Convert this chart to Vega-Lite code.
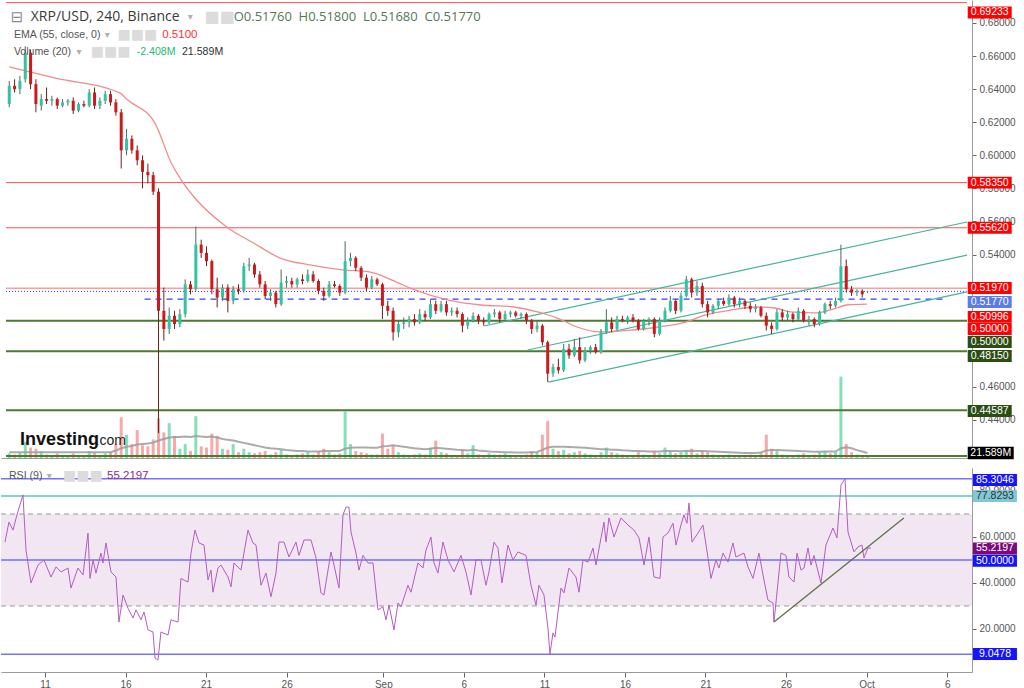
{
"$schema":"https://vega.github.io/schema/vega-lite/v6.json",
"padding":0,
"background":"#ffffff",
"spacing":10,
"bounds":"flush",
"config":{"view":{"stroke":null},"axis":{"grid":false,"labelFont":"Liberation Sans","labelColor":"#555555","labelFontSize":10,"tickColor":"#666666","domainColor":"#9a9a9a"},"text":{"font":"Liberation Sans"}},
"resolve":{"scale":{"x":"independent","y":"independent","fill":"independent","stroke":"independent","strokeWidth":"independent","color":"independent"}},
"datasets":{
"k":[
{"i":0,"o":0.631,"h":0.645,"l":0.629,"c":0.642,"v":20,"m":25},
{"i":1,"o":0.642,"h":0.646,"l":0.638,"c":0.640,"v":15,"m":25},
{"i":2,"o":0.640,"h":0.648,"l":0.637,"c":0.645,"v":25,"m":25},
{"i":3,"o":0.646,"h":0.666,"l":0.644,"c":0.662,"v":70,"m":25},
{"i":4,"o":0.662,"h":0.664,"l":0.640,"c":0.643,"v":45,"m":25},
{"i":5,"o":0.643,"h":0.646,"l":0.626,"c":0.631,"v":40,"m":25},
{"i":6,"o":0.630,"h":0.637,"l":0.627,"c":0.634,"v":30,"m":25},
{"i":7,"o":0.634,"h":0.641,"l":0.631,"c":0.633,"v":15,"m":25},
{"i":8,"o":0.633,"h":0.636,"l":0.630,"c":0.634,"v":12,"m":25},
{"i":9,"o":0.634,"h":0.635,"l":0.628,"c":0.630,"v":20,"m":25},
{"i":10,"o":0.630,"h":0.634,"l":0.629,"c":0.632,"v":10,"m":25},
{"i":11,"o":0.632,"h":0.634,"l":0.630,"c":0.633,"v":12,"m":25},
{"i":12,"o":0.633,"h":0.635,"l":0.625,"c":0.627,"v":20,"m":25},
{"i":13,"o":0.627,"h":0.632,"l":0.626,"c":0.631,"v":10,"m":25},
{"i":14,"o":0.631,"h":0.633,"l":0.629,"c":0.630,"v":12,"m":25},
{"i":15,"o":0.630,"h":0.640,"l":0.629,"c":0.638,"v":30,"m":25},
{"i":16,"o":0.638,"h":0.641,"l":0.628,"c":0.630,"v":25,"m":25},
{"i":17,"o":0.630,"h":0.635,"l":0.628,"c":0.633,"v":12,"m":25},
{"i":18,"o":0.633,"h":0.639,"l":0.631,"c":0.637,"v":20,"m":25},
{"i":19,"o":0.637,"h":0.639,"l":0.630,"c":0.632,"v":25,"m":25},
{"i":20,"o":0.632,"h":0.634,"l":0.624,"c":0.626,"v":60,"m":32},
{"i":21,"o":0.626,"h":0.628,"l":0.592,"c":0.603,"v":175,"m":42},
{"i":22,"o":0.603,"h":0.616,"l":0.600,"c":0.610,"v":100,"m":48},
{"i":23,"o":0.610,"h":0.612,"l":0.601,"c":0.603,"v":60,"m":52},
{"i":24,"o":0.603,"h":0.606,"l":0.594,"c":0.597,"v":120,"m":58},
{"i":25,"o":0.597,"h":0.600,"l":0.580,"c":0.590,"v":55,"m":60},
{"i":26,"o":0.590,"h":0.595,"l":0.583,"c":0.588,"v":50,"m":62},
{"i":27,"o":0.588,"h":0.590,"l":0.576,"c":0.578,"v":80,"m":66},
{"i":28,"o":0.578,"h":0.580,"l":0.432,"c":0.506,"v":170,"m":75},
{"i":29,"o":0.506,"h":0.520,"l":0.488,"c":0.495,"v":110,"m":82},
{"i":30,"o":0.495,"h":0.508,"l":0.492,"c":0.503,"v":150,"m":88},
{"i":31,"o":0.503,"h":0.506,"l":0.495,"c":0.498,"v":95,"m":90},
{"i":32,"o":0.498,"h":0.507,"l":0.496,"c":0.504,"v":40,"m":90},
{"i":33,"o":0.504,"h":0.525,"l":0.502,"c":0.522,"v":60,"m":92},
{"i":34,"o":0.522,"h":0.524,"l":0.516,"c":0.519,"v":30,"m":90},
{"i":35,"o":0.519,"h":0.557,"l":0.518,"c":0.546,"v":180,"m":95},
{"i":36,"o":0.546,"h":0.549,"l":0.538,"c":0.541,"v":50,"m":92},
{"i":37,"o":0.541,"h":0.545,"l":0.533,"c":0.536,"v":45,"m":90},
{"i":38,"o":0.536,"h":0.537,"l":0.516,"c":0.519,"v":105,"m":92},
{"i":39,"o":0.519,"h":0.526,"l":0.508,"c":0.514,"v":95,"m":88},
{"i":40,"o":0.514,"h":0.522,"l":0.512,"c":0.520,"v":40,"m":82},
{"i":41,"o":0.520,"h":0.522,"l":0.505,"c":0.512,"v":35,"m":78},
{"i":42,"o":0.512,"h":0.521,"l":0.510,"c":0.519,"v":60,"m":75},
{"i":43,"o":0.519,"h":0.522,"l":0.516,"c":0.518,"v":25,"m":70},
{"i":44,"o":0.518,"h":0.535,"l":0.517,"c":0.533,"v":40,"m":65},
{"i":45,"o":0.533,"h":0.538,"l":0.530,"c":0.534,"v":25,"m":60},
{"i":46,"o":0.534,"h":0.535,"l":0.526,"c":0.528,"v":20,"m":55},
{"i":47,"o":0.528,"h":0.530,"l":0.520,"c":0.522,"v":25,"m":50},
{"i":48,"o":0.522,"h":0.524,"l":0.513,"c":0.515,"v":30,"m":45},
{"i":49,"o":0.515,"h":0.519,"l":0.512,"c":0.517,"v":15,"m":42},
{"i":50,"o":0.517,"h":0.518,"l":0.508,"c":0.510,"v":25,"m":40},
{"i":51,"o":0.510,"h":0.531,"l":0.509,"c":0.523,"v":35,"m":38},
{"i":52,"o":0.523,"h":0.527,"l":0.520,"c":0.524,"v":15,"m":34},
{"i":53,"o":0.524,"h":0.526,"l":0.520,"c":0.522,"v":12,"m":32},
{"i":54,"o":0.522,"h":0.526,"l":0.520,"c":0.525,"v":15,"m":30},
{"i":55,"o":0.525,"h":0.528,"l":0.522,"c":0.524,"v":20,"m":30},
{"i":56,"o":0.524,"h":0.531,"l":0.523,"c":0.528,"v":25,"m":28},
{"i":57,"o":0.528,"h":0.530,"l":0.523,"c":0.524,"v":15,"m":28},
{"i":58,"o":0.524,"h":0.525,"l":0.516,"c":0.518,"v":30,"m":28},
{"i":59,"o":0.518,"h":0.520,"l":0.512,"c":0.515,"v":40,"m":30},
{"i":60,"o":0.515,"h":0.524,"l":0.514,"c":0.522,"v":25,"m":30},
{"i":61,"o":0.522,"h":0.524,"l":0.520,"c":0.521,"v":15,"m":30},
{"i":62,"o":0.521,"h":0.522,"l":0.515,"c":0.517,"v":20,"m":30},
{"i":63,"o":0.517,"h":0.548,"l":0.516,"c":0.536,"v":200,"m":40},
{"i":64,"o":0.536,"h":0.541,"l":0.533,"c":0.538,"v":60,"m":44},
{"i":65,"o":0.538,"h":0.539,"l":0.530,"c":0.532,"v":30,"m":45},
{"i":66,"o":0.532,"h":0.533,"l":0.524,"c":0.526,"v":25,"m":45},
{"i":67,"o":0.526,"h":0.528,"l":0.518,"c":0.520,"v":20,"m":45},
{"i":68,"o":0.520,"h":0.527,"l":0.519,"c":0.525,"v":15,"m":44},
{"i":69,"o":0.525,"h":0.526,"l":0.521,"c":0.522,"v":15,"m":44},
{"i":70,"o":0.522,"h":0.523,"l":0.501,"c":0.509,"v":105,"m":50},
{"i":71,"o":0.509,"h":0.512,"l":0.503,"c":0.506,"v":40,"m":52},
{"i":72,"o":0.506,"h":0.508,"l":0.488,"c":0.493,"v":55,"m":55},
{"i":73,"o":0.493,"h":0.500,"l":0.490,"c":0.498,"v":25,"m":52},
{"i":74,"o":0.498,"h":0.502,"l":0.495,"c":0.499,"v":15,"m":48},
{"i":75,"o":0.499,"h":0.503,"l":0.496,"c":0.501,"v":12,"m":45},
{"i":76,"o":0.501,"h":0.504,"l":0.497,"c":0.499,"v":15,"m":42},
{"i":77,"o":0.499,"h":0.507,"l":0.498,"c":0.504,"v":20,"m":40},
{"i":78,"o":0.504,"h":0.506,"l":0.500,"c":0.502,"v":15,"m":38},
{"i":79,"o":0.502,"h":0.513,"l":0.501,"c":0.510,"v":45,"m":40},
{"i":80,"o":0.510,"h":0.512,"l":0.504,"c":0.506,"v":75,"m":44},
{"i":81,"o":0.506,"h":0.512,"l":0.505,"c":0.510,"v":25,"m":42},
{"i":82,"o":0.510,"h":0.512,"l":0.503,"c":0.505,"v":20,"m":40},
{"i":83,"o":0.505,"h":0.508,"l":0.503,"c":0.506,"v":12,"m":38},
{"i":84,"o":0.506,"h":0.508,"l":0.502,"c":0.504,"v":10,"m":35},
{"i":85,"o":0.504,"h":0.505,"l":0.493,"c":0.497,"v":35,"m":34},
{"i":86,"o":0.497,"h":0.502,"l":0.495,"c":0.500,"v":20,"m":32},
{"i":87,"o":0.500,"h":0.505,"l":0.499,"c":0.503,"v":55,"m":35},
{"i":88,"o":0.503,"h":0.504,"l":0.498,"c":0.500,"v":15,"m":32},
{"i":89,"o":0.500,"h":0.502,"l":0.497,"c":0.499,"v":12,"m":30},
{"i":90,"o":0.499,"h":0.505,"l":0.498,"c":0.504,"v":20,"m":28},
{"i":91,"o":0.504,"h":0.507,"l":0.502,"c":0.505,"v":15,"m":27},
{"i":92,"o":0.505,"h":0.506,"l":0.499,"c":0.501,"v":15,"m":26},
{"i":93,"o":0.501,"h":0.506,"l":0.500,"c":0.504,"v":20,"m":25},
{"i":94,"o":0.504,"h":0.506,"l":0.502,"c":0.505,"v":10,"m":25},
{"i":95,"o":0.505,"h":0.506,"l":0.502,"c":0.503,"v":12,"m":24},
{"i":96,"o":0.503,"h":0.505,"l":0.501,"c":0.504,"v":10,"m":24},
{"i":97,"o":0.504,"h":0.505,"l":0.498,"c":0.500,"v":15,"m":24},
{"i":98,"o":0.500,"h":0.501,"l":0.492,"c":0.495,"v":30,"m":25},
{"i":99,"o":0.495,"h":0.500,"l":0.493,"c":0.497,"v":25,"m":26},
{"i":100,"o":0.497,"h":0.498,"l":0.485,"c":0.487,"v":100,"m":35},
{"i":101,"o":0.487,"h":0.488,"l":0.463,"c":0.468,"v":160,"m":45},
{"i":102,"o":0.468,"h":0.474,"l":0.466,"c":0.472,"v":40,"m":48},
{"i":103,"o":0.472,"h":0.477,"l":0.468,"c":0.470,"v":30,"m":48},
{"i":104,"o":0.470,"h":0.486,"l":0.469,"c":0.483,"v":35,"m":48},
{"i":105,"o":0.483,"h":0.486,"l":0.477,"c":0.479,"v":20,"m":47},
{"i":106,"o":0.479,"h":0.489,"l":0.478,"c":0.484,"v":25,"m":46},
{"i":107,"o":0.484,"h":0.490,"l":0.474,"c":0.476,"v":30,"m":45},
{"i":108,"o":0.476,"h":0.484,"l":0.475,"c":0.482,"v":20,"m":44},
{"i":109,"o":0.482,"h":0.485,"l":0.480,"c":0.484,"v":15,"m":42},
{"i":110,"o":0.484,"h":0.486,"l":0.480,"c":0.481,"v":12,"m":40},
{"i":111,"o":0.481,"h":0.495,"l":0.480,"c":0.493,"v":25,"m":38},
{"i":112,"o":0.493,"h":0.507,"l":0.492,"c":0.499,"v":45,"m":38},
{"i":113,"o":0.499,"h":0.502,"l":0.493,"c":0.495,"v":25,"m":36},
{"i":114,"o":0.495,"h":0.503,"l":0.494,"c":0.501,"v":20,"m":35},
{"i":115,"o":0.501,"h":0.503,"l":0.499,"c":0.500,"v":15,"m":33},
{"i":116,"o":0.500,"h":0.503,"l":0.498,"c":0.502,"v":12,"m":32},
{"i":117,"o":0.502,"h":0.504,"l":0.499,"c":0.500,"v":12,"m":30},
{"i":118,"o":0.500,"h":0.501,"l":0.494,"c":0.495,"v":25,"m":30},
{"i":119,"o":0.495,"h":0.501,"l":0.494,"c":0.500,"v":15,"m":29},
{"i":120,"o":0.500,"h":0.502,"l":0.497,"c":0.501,"v":12,"m":28},
{"i":121,"o":0.501,"h":0.502,"l":0.490,"c":0.492,"v":30,"m":28},
{"i":122,"o":0.492,"h":0.502,"l":0.491,"c":0.500,"v":20,"m":28},
{"i":123,"o":0.500,"h":0.508,"l":0.499,"c":0.506,"v":45,"m":30},
{"i":124,"o":0.506,"h":0.515,"l":0.505,"c":0.512,"v":30,"m":30},
{"i":125,"o":0.512,"h":0.513,"l":0.504,"c":0.506,"v":20,"m":30},
{"i":126,"o":0.506,"h":0.517,"l":0.505,"c":0.515,"v":25,"m":29},
{"i":127,"o":0.515,"h":0.527,"l":0.514,"c":0.525,"v":35,"m":30},
{"i":128,"o":0.525,"h":0.526,"l":0.514,"c":0.517,"v":40,"m":31},
{"i":129,"o":0.517,"h":0.524,"l":0.515,"c":0.521,"v":20,"m":30},
{"i":130,"o":0.521,"h":0.523,"l":0.508,"c":0.510,"v":30,"m":30},
{"i":131,"o":0.510,"h":0.512,"l":0.502,"c":0.505,"v":25,"m":29},
{"i":132,"o":0.505,"h":0.510,"l":0.504,"c":0.509,"v":15,"m":28},
{"i":133,"o":0.509,"h":0.513,"l":0.507,"c":0.512,"v":12,"m":27},
{"i":134,"o":0.512,"h":0.514,"l":0.509,"c":0.510,"v":10,"m":26},
{"i":135,"o":0.510,"h":0.516,"l":0.509,"c":0.514,"v":15,"m":25},
{"i":136,"o":0.514,"h":0.515,"l":0.508,"c":0.510,"v":12,"m":24},
{"i":137,"o":0.510,"h":0.514,"l":0.508,"c":0.512,"v":10,"m":23},
{"i":138,"o":0.512,"h":0.513,"l":0.507,"c":0.509,"v":10,"m":22},
{"i":139,"o":0.509,"h":0.511,"l":0.505,"c":0.507,"v":15,"m":22},
{"i":140,"o":0.507,"h":0.510,"l":0.505,"c":0.508,"v":10,"m":22},
{"i":141,"o":0.508,"h":0.509,"l":0.502,"c":0.503,"v":25,"m":24},
{"i":142,"o":0.503,"h":0.505,"l":0.494,"c":0.497,"v":100,"m":32},
{"i":143,"o":0.497,"h":0.499,"l":0.492,"c":0.495,"v":40,"m":34},
{"i":144,"o":0.495,"h":0.507,"l":0.494,"c":0.505,"v":30,"m":34},
{"i":145,"o":0.505,"h":0.507,"l":0.500,"c":0.502,"v":15,"m":33},
{"i":146,"o":0.502,"h":0.506,"l":0.500,"c":0.504,"v":12,"m":32},
{"i":147,"o":0.504,"h":0.505,"l":0.499,"c":0.501,"v":10,"m":31},
{"i":148,"o":0.501,"h":0.508,"l":0.500,"c":0.506,"v":15,"m":30},
{"i":149,"o":0.506,"h":0.507,"l":0.499,"c":0.500,"v":20,"m":29},
{"i":150,"o":0.500,"h":0.503,"l":0.497,"c":0.501,"v":12,"m":28},
{"i":151,"o":0.501,"h":0.502,"l":0.496,"c":0.498,"v":15,"m":27},
{"i":152,"o":0.498,"h":0.506,"l":0.497,"c":0.505,"v":25,"m":27},
{"i":153,"o":0.505,"h":0.511,"l":0.504,"c":0.510,"v":30,"m":28},
{"i":154,"o":0.510,"h":0.512,"l":0.507,"c":0.509,"v":20,"m":28},
{"i":155,"o":0.509,"h":0.514,"l":0.508,"c":0.512,"v":25,"m":28},
{"i":156,"o":0.512,"h":0.546,"l":0.511,"c":0.533,"v":350,"m":42},
{"i":157,"o":0.533,"h":0.537,"l":0.517,"c":0.519,"v":60,"m":46},
{"i":158,"o":0.519,"h":0.521,"l":0.515,"c":0.517,"v":25,"m":42},
{"i":159,"o":0.517,"h":0.519,"l":0.515,"c":0.518,"v":15,"m":34},
{"i":160,"o":0.518,"h":0.519,"l":0.514,"c":0.516,"v":12,"m":28},
{"i":161,"o":0.5176,"h":0.518,"l":0.5168,"c":0.5177,"v":10,"m":21.6}
],
"ema":[{"i":0,"e":0.6534},{"i":8.67,"e":0.6467},{"i":20.74,"e":0.6377},{"i":22.22,"e":0.6334},{"i":27.23,"e":0.6201},{"i":30.39,"e":0.5954},{"i":32.25,"e":0.5851},{"i":34.66,"e":0.5748},{"i":40.79,"e":0.5567},{"i":45.8,"e":0.547},{"i":50.81,"e":0.5379},{"i":56.38,"e":0.5337},{"i":62.51,"e":0.5307},{"i":67.52,"e":0.5295},{"i":71.79,"e":0.5246},{"i":76.06,"e":0.5186},{"i":82.37,"e":0.5125},{"i":88.5,"e":0.5095},{"i":94.62,"e":0.5083},{"i":99.08,"e":0.5053},{"i":102.79,"e":0.5016},{"i":106.5,"e":0.4962},{"i":110.77,"e":0.4932},{"i":116.9,"e":0.4944},{"i":121.91,"e":0.4962},{"i":126.92,"e":0.4992},{"i":130.64,"e":0.5035},{"i":135.47,"e":0.5065},{"i":140.48,"e":0.5083},{"i":143.63,"e":0.5077},{"i":146.6,"e":0.5053},{"i":151.06,"e":0.5047},{"i":154.03,"e":0.5065},{"i":157.18,"e":0.5095},{"i":160.89,"e":0.51}],
"rsi":[{"i":0.13,"r":57.8},{"i":0.87,"r":66.5},{"i":1.62,"r":63},{"i":2.17,"r":68},{"i":2.73,"r":72.6},{"i":3.47,"r":78.3},{"i":4.03,"r":54.3},{"i":4.96,"r":40},{"i":6.26,"r":47.8},{"i":7.37,"r":50},{"i":8.67,"r":42.6},{"i":9.6,"r":47},{"i":10.53,"r":44.8},{"i":11.83,"r":46.5},{"i":12.38,"r":37.8},{"i":13.68,"r":46.5},{"i":14.61,"r":43.5},{"i":15.54,"r":61.7},{"i":15.91,"r":42},{"i":16.47,"r":50},{"i":17.02,"r":44.3},{"i":17.95,"r":53},{"i":18.32,"r":48.7},{"i":18.88,"r":57.4},{"i":19.81,"r":44.8},{"i":20.74,"r":42.6},{"i":21.29,"r":23},{"i":22.04,"r":34.8},{"i":22.97,"r":29},{"i":23.89,"r":24.8},{"i":24.45,"r":28.3},{"i":25.38,"r":24},{"i":25.94,"r":27.4},{"i":26.68,"r":19.6},{"i":27.61,"r":18.7},{"i":27.98,"r":7.4},{"i":28.53,"r":6.5},{"i":29.09,"r":18.7},{"i":30.39,"r":17.4},{"i":30.95,"r":24},{"i":32.25,"r":23},{"i":32.8,"r":42},{"i":34.1,"r":40.4},{"i":34.66,"r":53},{"i":35.4,"r":63},{"i":36.15,"r":57.4},{"i":37.07,"r":56.5},{"i":37.82,"r":41.3},{"i":38.37,"r":45.6},{"i":38.74,"r":36},{"i":39.67,"r":46.5},{"i":40.23,"r":47.8},{"i":41.53,"r":42.6},{"i":42.09,"r":38.3},{"i":42.64,"r":48.7},{"i":43.94,"r":45.6},{"i":45.24,"r":63},{"i":46.17,"r":57.4},{"i":46.73,"r":56.5},{"i":47.66,"r":39},{"i":48.58,"r":44.3},{"i":49.51,"r":34},{"i":50.44,"r":44.3},{"i":51.0,"r":57.8},{"i":51.92,"r":57.8},{"i":52.85,"r":51.3},{"i":54.15,"r":57.8},{"i":54.71,"r":52},{"i":55.64,"r":58.7},{"i":56.94,"r":58.7},{"i":57.87,"r":50.9},{"i":58.79,"r":35.7},{"i":59.35,"r":34.8},{"i":60.65,"r":53.5},{"i":61.21,"r":47.8},{"i":62.14,"r":37.8},{"i":62.88,"r":69.6},{"i":63.43,"r":73},{"i":63.99,"r":73},{"i":64.36,"r":62.2},{"i":65.29,"r":53},{"i":65.85,"r":45.6},{"i":66.59,"r":52},{"i":67.52,"r":48.7},{"i":68.45,"r":48.7},{"i":69.37,"r":28.3},{"i":70.3,"r":29.6},{"i":70.86,"r":24},{"i":71.42,"r":30.4},{"i":72.35,"r":19.6},{"i":73.09,"r":31.3},{"i":73.65,"r":29.6},{"i":74.94,"r":39},{"i":75.5,"r":36},{"i":76.8,"r":48.7},{"i":77.73,"r":46.5},{"i":78.28,"r":54.3},{"i":79.21,"r":60},{"i":79.77,"r":48.7},{"i":80.51,"r":44.3},{"i":81.44,"r":57.8},{"i":82.37,"r":50},{"i":83.48,"r":44.8},{"i":84.78,"r":52},{"i":85.71,"r":44.8},{"i":86.64,"r":34.8},{"i":87.57,"r":50},{"i":88.5,"r":50},{"i":89.42,"r":39},{"i":89.98,"r":44.8},{"i":90.91,"r":57.8},{"i":91.65,"r":55.2},{"i":92.39,"r":40},{"i":93.51,"r":56.5},{"i":94.43,"r":50},{"i":95.36,"r":53.5},{"i":96.85,"r":52},{"i":97.78,"r":39},{"i":98.71,"r":30.4},{"i":99.26,"r":39},{"i":100.19,"r":34.8},{"i":100.93,"r":20.4},{"i":101.3,"r":9.05},{"i":101.86,"r":18.3},{"i":102.23,"r":16.5},{"i":103.35,"r":37.8},{"i":103.9,"r":35.7},{"i":104.83,"r":46.5},{"i":106.13,"r":42.6},{"i":106.69,"r":36},{"i":107.43,"r":50},{"i":108.36,"r":49.1},{"i":109.29,"r":55.2},{"i":109.84,"r":47.8},{"i":111.33,"r":66.5},{"i":111.7,"r":57.8},{"i":112.26,"r":68.3},{"i":113.19,"r":60},{"i":114.49,"r":68.3},{"i":115.79,"r":65.2},{"i":116.9,"r":63},{"i":117.83,"r":59.6},{"i":118.76,"r":47.8},{"i":119.68,"r":60},{"i":120.61,"r":42.6},{"i":121.73,"r":42},{"i":122.28,"r":60},{"i":123.21,"r":61.7},{"i":124.14,"r":66},{"i":124.7,"r":56.5},{"i":125.62,"r":65.2},{"i":126.18,"r":69.6},{"i":126.74,"r":66},{"i":127.11,"r":74.8},{"i":127.67,"r":57.8},{"i":128.78,"r":61.7},{"i":129.71,"r":65.2},{"i":130.64,"r":50.9},{"i":131.19,"r":42},{"i":132.12,"r":50},{"i":132.68,"r":46.5},{"i":133.42,"r":53},{"i":134.35,"r":49.1},{"i":135.28,"r":57.4},{"i":135.83,"r":51.3},{"i":137.32,"r":53},{"i":138.06,"r":47},{"i":138.99,"r":42},{"i":140.1,"r":53},{"i":141.03,"r":41.3},{"i":141.77,"r":32.6},{"i":142.7,"r":31.3},{"i":142.89,"r":23},{"i":144.19,"r":53},{"i":145.12,"r":52},{"i":145.67,"r":42.6},{"i":146.6,"r":40.4},{"i":147.16,"r":53},{"i":147.9,"r":45.6},{"i":148.46,"r":46.5},{"i":149.2,"r":55.2},{"i":149.76,"r":47.8},{"i":150.32,"r":52},{"i":151.61,"r":40},{"i":152.54,"r":56.5},{"i":153.84,"r":63.9},{"i":154.58,"r":59.6},{"i":155.33,"r":82.6},{"i":156.07,"r":85.3},{"i":156.63,"r":62.2},{"i":157.74,"r":53.5},{"i":158.48,"r":55.7},{"i":159.22,"r":56.5},{"i":159.6,"r":50.9},{"i":160.33,"r":55.2},{"i":160.89,"r":55.2}],
"hl":[{"p":0.69233,"k":"res"},{"p":0.5835,"k":"res"},{"p":0.5562,"k":"res"},{"p":0.5197,"k":"pv"},{"p":0.5,"k":"sup"},{"p":0.4815,"k":"sup"},{"p":0.44587,"k":"sup"},{"p":0.4182,"k":"sup"}],
"chan":[{"i1":89.05,"p1":0.4968,"i2":179.65,"p2":0.5597},{"i1":97.22,"p1":0.4823,"i2":179.65,"p2":0.5397},{"i1":101.12,"p1":0.4629,"i2":179.65,"p2":0.5174}],
"plab":[{"t":"0.69233","at":0.68635,"k":"r"},{"t":"0.58350","at":0.5835,"k":"r"},{"t":"0.55620","at":0.5562,"k":"r"},{"t":"0.51970","at":0.5198,"k":"r"},{"t":"0.51770","at":0.5113,"k":"b"},{"t":"0.50996","at":0.5023,"k":"r"},{"t":"0.50000","at":0.495,"k":"r"},{"t":"0.50000","at":0.4871,"k":"g"},{"t":"0.48150","at":0.4787,"k":"g"},{"t":"0.44587","at":0.4454,"k":"g"}],
"rhl":[{"r":85.3046,"k":"b2"},{"r":77.8293,"k":"c"},{"r":50,"k":"b"},{"r":9.0478,"k":"b2"}],
"rlab":[{"t":"85.3046","at":84.8,"k":"b"},{"t":"77.8293","at":77.8,"k":"c"},{"t":"55.2197","at":55.0,"k":"p"},{"t":"50.0000","at":49.7,"k":"b"},{"t":"9.0478","at":9.1,"k":"b"}]
},
"vconcat":[
{
"width":971,"height":458,
"resolve":{"scale":{"y":"independent"},"axis":{"y":"independent"}},
"layer":[
{"layer":[
 {"data":{"name":"k"},"mark":{"type":"bar","size":3},
  "encoding":{"x":{"field":"i","type":"quantitative","scale":{"domain":[-0.61,179.65],"nice":false,"zero":false}},
   "y":{"field":"v","type":"quantitative","scale":{"domain":[0,1970],"nice":false},"axis":null},
   "color":{"condition":{"test":"datum.c>=datum.o","value":"#86dfb8"},"value":"#f6a9a9"}}},
 {"data":{"name":"k"},"mark":{"type":"line","color":"#9c9c9c","strokeWidth":2,"opacity":0.85},
  "encoding":{"x":{"field":"i","type":"quantitative"},"y":{"field":"m","type":"quantitative","axis":null}}},
 {"data":{"values":[{}]},"mark":{"type":"point","shape":"M-1,-0.27H1V0.27H-1Z","size":2116,"filled":true,"opacity":1,"color":"#000000","strokeWidth":0},
  "encoding":{"x":{"datum":184.1},"y":{"datum":21.589,"axis":null}}},
 {"data":{"values":[{}]},"mark":{"type":"text","text":"21.589M","color":"#ffffff","fontSize":10.5,"align":"center","baseline":"middle"},
  "encoding":{"x":{"datum":184.1},"y":{"datum":21.589,"axis":null}}}
]},
{"layer":[
 {"data":{"name":"hl"},"mark":{"type":"rule"},
  "encoding":{"x":{"datum":-0.61},"x2":{"datum":179.65},"y":{"field":"p","type":"quantitative"},
   "stroke":{"field":"k","type":"nominal","scale":{"domain":["res","pv","sup"],"range":["#ff5050","#ff9e9e","#4d7a33"]},"legend":null},
   "strokeWidth":{"field":"k","type":"nominal","scale":{"domain":["res","pv","sup"],"range":[1,2,1.2]},"legend":null}}},
 {"data":{"values":[{}]},"mark":{"type":"rule","color":"#3b3bff","strokeDash":[1,2],"strokeWidth":1},
  "encoding":{"x":{"datum":-0.61},"x2":{"datum":179.65},"y":{"datum":0.5177}}},
 {"data":{"values":[{}]},"mark":{"type":"rule","color":"#3b3bff","strokeDash":[6,5],"strokeWidth":1.3},
  "encoding":{"x":{"datum":25.38},"x2":{"datum":175.37},"y":{"datum":0.5131}}},
 {"data":{"name":"chan"},"mark":{"type":"rule","color":"#44b598","strokeWidth":1.2},
  "encoding":{"x":{"field":"i1","type":"quantitative"},"x2":{"field":"i2"},"y":{"field":"p1","type":"quantitative"},"y2":{"field":"p2"}}},
 {"data":{"name":"ema"},"mark":{"type":"line","color":"#f28b8b","strokeWidth":1.3,"interpolate":"monotone"},
  "encoding":{"x":{"field":"i","type":"quantitative"},"y":{"field":"e","type":"quantitative"}}},
 {"data":{"name":"k"},"mark":{"type":"rule","strokeWidth":1},
  "encoding":{"x":{"field":"i","type":"quantitative","scale":{"domain":[-0.61,179.65],"nice":false,"zero":false},
    "axis":{"title":null,"labels":false,"ticks":false,"domain":true,"orient":"bottom","domainColor":"#9a9a9a"}},
   "y":{"field":"l","type":"quantitative","scale":{"domain":[0.417,0.6939],"nice":false,"zero":false},
    "axis":{"title":null,"orient":"right","values":[0.44,0.46,0.54,0.56,0.58,0.6,0.62,0.64,0.66,0.68],"format":".5f","tickSize":4,"labelPadding":3}},
   "y2":{"field":"h"},
   "color":{"condition":{"test":"datum.c>=datum.o","value":"#4d6b58"},"value":"#6e1f1f"}}},
 {"data":{"name":"k"},"mark":{"type":"bar","size":3},
  "encoding":{"x":{"field":"i","type":"quantitative"},"y":{"field":"o","type":"quantitative"},"y2":{"field":"c"},
   "color":{"condition":{"test":"datum.c>=datum.o","value":"#31c3a2"},"value":"#cc1a1a"}}},
 {"data":{"name":"plab"},"mark":{"type":"point","shape":"M-1,-0.27H1V0.27H-1Z","size":1936,"filled":true,"opacity":1,"strokeWidth":0},
  "encoding":{"x":{"datum":183.91},"y":{"field":"at","type":"quantitative"},
   "fill":{"field":"k","type":"nominal","scale":{"domain":["r","b","g"],"range":["#ff0000","#5b7be6","#2b4d14"]},"legend":null}}},
 {"data":{"name":"plab"},"mark":{"type":"text","color":"#ffffff","fontSize":10.5,"align":"center","baseline":"middle"},
  "encoding":{"x":{"datum":183.91},"y":{"field":"at","type":"quantitative"},"text":{"field":"t"}}},
 {"data":{"values":[{}]},"mark":{"type":"text","text":"⊟","font":"DejaVu Sans","fontSize":15,"color":"#8a8a8a","align":"left","baseline":"middle"},
  "encoding":{"x":{"datum":0.3},"y":{"datum":0.6836}}},
 {"data":{"values":[{}]},"mark":{"type":"text","text":"XRP/USD, 240, Binance","font":"Open Sans","fontSize":14,"color":"#3a3a3a","align":"left","baseline":"middle"},
  "encoding":{"x":{"datum":4.03},"y":{"datum":0.6836}}},
 {"data":{"values":[{}]},"mark":{"type":"text","text":"▾","font":"DejaVu Sans","fontSize":10,"color":"#b0b0b0","align":"left","baseline":"middle"},
  "encoding":{"x":{"datum":33.5},"y":{"datum":0.6836}}},
 {"data":{"values":[{}]},"mark":{"type":"text","text":"■■","font":"DejaVu Sans","fontSize":16,"letterSpacing":1,"color":"#dcdcdc","align":"left","baseline":"middle"},
  "encoding":{"x":{"datum":36.6},"y":{"datum":0.6836}}},
 {"data":{"values":[{}]},"mark":{"type":"text","text":"O0.51760\u00a0\u00a0H0.51800\u00a0\u00a0L0.51680\u00a0\u00a0C0.51770","font":"Open Sans","fontSize":13,"color":"#4f7a55","align":"left","baseline":"middle"},
  "encoding":{"x":{"datum":42.1},"y":{"datum":0.6836}}},
 {"data":{"values":[{}]},"mark":{"type":"text","text":"EMA (55, close, 0)","font":"Liberation Sans","fontSize":10.6,"color":"#555555","align":"left","baseline":"middle"},
  "encoding":{"x":{"datum":0.87},"y":{"datum":0.67274}}},
 {"data":{"values":[{}]},"mark":{"type":"text","text":"▾","font":"DejaVu Sans","fontSize":10,"color":"#b0b0b0","align":"left","baseline":"middle"},
  "encoding":{"x":{"datum":17.9},"y":{"datum":0.67274}}},
 {"data":{"values":[{}]},"mark":{"type":"text","text":"■■■","font":"DejaVu Sans","fontSize":14,"letterSpacing":2,"color":"#dcdcdc","align":"left","baseline":"middle"},
  "encoding":{"x":{"datum":20.3},"y":{"datum":0.67274}}},
 {"data":{"values":[{}]},"mark":{"type":"text","text":"0.5100","font":"Liberation Sans","fontSize":11.5,"color":"#ff3030","align":"left","baseline":"middle"},
  "encoding":{"x":{"datum":28.7},"y":{"datum":0.67274}}},
 {"data":{"values":[{}]},"mark":{"type":"text","text":"Volume (20)","font":"Liberation Sans","fontSize":10.6,"color":"#555555","align":"left","baseline":"middle"},
  "encoding":{"x":{"datum":0.87},"y":{"datum":0.66247}}},
 {"data":{"values":[{}]},"mark":{"type":"text","text":"▾","font":"DejaVu Sans","fontSize":10,"color":"#b0b0b0","align":"left","baseline":"middle"},
  "encoding":{"x":{"datum":12.6},"y":{"datum":0.66247}}},
 {"data":{"values":[{}]},"mark":{"type":"text","text":"■■■","font":"DejaVu Sans","fontSize":14,"letterSpacing":2,"color":"#dcdcdc","align":"left","baseline":"middle"},
  "encoding":{"x":{"datum":15.3},"y":{"datum":0.66247}}},
 {"data":{"values":[{}]},"mark":{"type":"text","text":"-2.408M","font":"Liberation Sans","fontSize":10.6,"color":"#22bb77","align":"left","baseline":"middle"},
  "encoding":{"x":{"datum":23.9},"y":{"datum":0.66247}}},
 {"data":{"values":[{}]},"mark":{"type":"text","text":"21.589M","font":"Liberation Sans","fontSize":10.6,"color":"#333333","align":"left","baseline":"middle"},
  "encoding":{"x":{"datum":32.4},"y":{"datum":0.66247}}},
 {"data":{"values":[{}]},"mark":{"type":"text","text":"Investing","font":"Liberation Sans","fontWeight":"bold","fontSize":18,"letterSpacing":-0.4,"color":"#111111","align":"left","baseline":"middle"},
  "encoding":{"x":{"datum":2.0},"y":{"datum":0.4279}}},
 {"data":{"values":[{}]},"mark":{"type":"text","text":".com","font":"Liberation Sans","fontSize":14,"color":"#222222","align":"left","baseline":"middle"},
  "encoding":{"x":{"datum":16.2},"y":{"datum":0.4272}}}
]}
]
},
{
"width":971,"height":204,
"layer":[
 {"data":{"values":[{}]},"mark":{"type":"rect","color":"#f1e6f2"},
  "encoding":{"x":{"datum":-0.61},"x2":{"datum":179.65},"y":{"datum":70},"y2":{"datum":30}}},
 {"data":{"values":[{"r":70},{"r":30}]},"mark":{"type":"rule","color":"#9b9b9b","strokeDash":[5,4],"strokeWidth":1},
  "encoding":{"x":{"datum":-0.61},"x2":{"datum":179.65},"y":{"field":"r","type":"quantitative"}}},
 {"data":{"name":"rhl"},"mark":{"type":"rule"},
  "encoding":{"x":{"datum":-0.61},"x2":{"datum":179.65},"y":{"field":"r","type":"quantitative"},
   "stroke":{"field":"k","type":"nominal","scale":{"domain":["b","b2","c"],"range":["#3333ff","#7373ff","#8ccfdc"]},"legend":null},
   "strokeWidth":{"field":"k","type":"nominal","scale":{"domain":["b","b2","c"],"range":[1.2,2,1.2]},"legend":null}}},
 {"data":{"name":"rsi"},"mark":{"type":"line","color":"#b45cc3","strokeWidth":1},
  "encoding":{"x":{"field":"i","type":"quantitative","scale":{"domain":[-0.61,179.65],"nice":false,"zero":false},
    "axis":{"title":null,"orient":"bottom","values":[7.56,22.52,37.46,52.42,70.36,85.32,100.27,115.23,130.17,145.13,160.08,175.04],
     "labelExpr":"datum.value<15?'11':datum.value<30?'16':datum.value<45?'21':datum.value<60?'26':datum.value<78?'Sep':datum.value<93?'6':datum.value<108?'11':datum.value<123?'16':datum.value<138?'21':datum.value<153?'26':datum.value<168?'Oct':'6'",
     "tickSize":5,"labelFontSize":10,"labelPadding":2}},
   "y":{"field":"r","type":"quantitative","scale":{"domain":[1.3,90],"nice":false,"zero":false},
    "axis":{"title":null,"orient":"right","values":[20,40,60,80],"format":".4f","tickSize":4,"labelPadding":3}}}},
 {"data":{"values":[{"i1":142.89,"r1":23.0,"i2":167.0,"r2":68.3}]},"mark":{"type":"rule","color":"#5b7346","strokeWidth":1.3},
  "encoding":{"x":{"field":"i1","type":"quantitative"},"x2":{"field":"i2"},"y":{"field":"r1","type":"quantitative"},"y2":{"field":"r2"}}},
 {"data":{"name":"rlab"},"mark":{"type":"point","shape":"M-1,-0.27H1V0.27H-1Z","size":1936,"filled":true,"opacity":1,"strokeWidth":0},
  "encoding":{"x":{"datum":183.91},"y":{"field":"at","type":"quantitative"},
   "fill":{"field":"k","type":"nominal","scale":{"domain":["b","c","p"],"range":["#1414ff","#80c8d8","#7d0a7d"]},"legend":null}}},
 {"data":{"name":"rlab"},"mark":{"type":"text","fontSize":10.5,"align":"center","baseline":"middle"},
  "encoding":{"x":{"datum":183.91},"y":{"field":"at","type":"quantitative"},"text":{"field":"t"},
   "color":{"condition":{"test":"datum.k=='c'","value":"#333333"},"value":"#ffffff"}}},
 {"data":{"values":[{}]},"mark":{"type":"text","text":"RSI (9)","font":"Liberation Sans","fontSize":10.6,"color":"#555555","align":"left","baseline":"middle"},
  "encoding":{"x":{"datum":0.87},"y":{"datum":86.5}}},
 {"data":{"values":[{}]},"mark":{"type":"text","text":"▾","font":"DejaVu Sans","fontSize":10,"color":"#b0b0b0","align":"left","baseline":"middle"},
  "encoding":{"x":{"datum":7.9},"y":{"datum":86.5}}},
 {"data":{"values":[{}]},"mark":{"type":"text","text":"■■■","font":"DejaVu Sans","fontSize":14,"letterSpacing":2,"color":"#dcdcdc","align":"left","baseline":"middle"},
  "encoding":{"x":{"datum":10.9},"y":{"datum":86.5}}},
 {"data":{"values":[{}]},"mark":{"type":"text","text":"55.2197","font":"Liberation Sans","fontSize":11.5,"color":"#8e2b8e","align":"left","baseline":"middle"},
  "encoding":{"x":{"datum":19.07},"y":{"datum":86.5}}}
]
}
]
}
